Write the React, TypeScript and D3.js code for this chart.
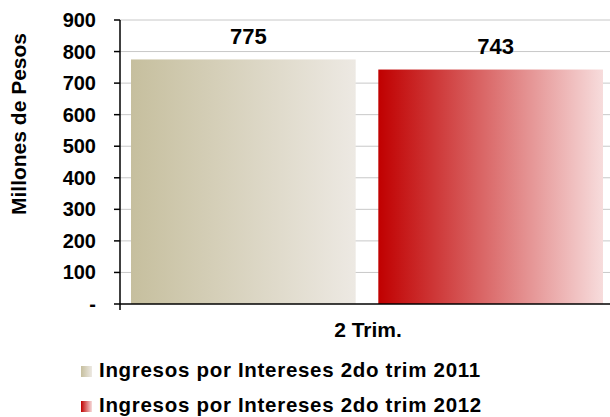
import React from "react";
import * as d3 from "d3";

const categories = ["2 Trim."];
const seriesNames = [
  "Ingresos por Intereses 2do trim 2011",
  "Ingresos por Intereses 2do trim 2012",
];
const seriesValues = [775, 743];
const yTicks = [0, 100, 200, 300, 400, 500, 600, 700, 800, 900];
const yTitle = "Millones de Pesos";

const gradients = [
  { from: "#c6bf9e", to: "#ede9e3" },
  { from: "#c00000", to: "#f7dcdc" },
];

const FONT = "'Liberation Sans', Arial, Helvetica, sans-serif";

export default function App() {
  const W = 610;
  const H = 417;
  const left = 120;
  const right = 610;
  const top = 20;
  const bottom = 304;

  const y = d3.scaleLinear().domain([0, 900]).range([bottom, top]);
  const x0 = d3.scaleBand().domain(categories).range([left, right]).paddingInner(0).paddingOuter(0.0);
  const x1 = d3
    .scaleBand()
    .domain(seriesNames)
    .range([11, x0.bandwidth() - 7])
    .paddingInner(0.0915);

  return (
    <svg width={W} height={H} style={{ position: "absolute", left: 0, top: 0 }} fontFamily={FONT}>
      <defs>
        {gradients.map((g, i) => (
          <linearGradient id={`g${i}`} key={i} x1="0" x2="1" y1="0" y2="0">
            <stop offset="0%" stopColor={g.from} />
            <stop offset="100%" stopColor={g.to} />
          </linearGradient>
        ))}
      </defs>
      <rect x={0} y={0} width={W} height={H} fill="#fff" />
      {/* gridlines */}
      {yTicks.slice(1).map((t) => (
        <line key={t} x1={left} x2={right} y1={y(t)} y2={y(t)} stroke="#c8c8c8" strokeWidth={1} />
      ))}
      {/* bars */}
      {categories.map((c) =>
        seriesValues.map((v, i) => {
          const bx = (x0(c) as number) + (x1(seriesNames[i]) as number);
          const bw = x1.bandwidth();
          return (
            <g key={`${c}-${i}`}>
              <rect x={bx} y={y(v)} width={bw} height={bottom - y(v)} fill={`url(#g${i})`} />
              <text
                x={bx + bw / 2 + 5}
                y={y(v) - 15.5}
                textAnchor="middle"
                fontSize={22}
                fontWeight="bold"
                fill="#000"
              >
                {d3.format("d")(v)}
              </text>
            </g>
          );
        })
      )}
      {/* y axis */}
      <line x1={left} x2={left} y1={top} y2={bottom + 6} stroke="#000" strokeWidth={1.5} />
      {yTicks.map((t) => (
        <g key={t}>
          <line x1={left - 6} x2={left} y1={y(t)} y2={y(t)} stroke="#000" strokeWidth={1.5} />
          <text
            x={96}
            y={y(t) + 7}
            textAnchor="end"
            fontSize={20}
            fontWeight="bold"
            fill="#000"
          >
            {t === 0 ? "-" : t}
          </text>
        </g>
      ))}
      {/* x axis */}
      <line x1={left} x2={right} y1={bottom} y2={bottom} stroke="#000" strokeWidth={1.5} />
      {categories.map((c) => (
        <text
          key={c}
          x={(x0(c) as number) + x0.bandwidth() / 2 + 3}
          y={337}
          textAnchor="middle"
          fontSize={21}
          fontWeight="bold"
          fill="#000"
        >
          {c}
        </text>
      ))}
      {/* y title */}
      <text
        transform={`translate(25.5, 124) rotate(-90)`}
        textAnchor="middle"
        fontSize={21}
        fontWeight="bold"
        fill="#000"
      >
        {yTitle}
      </text>
      {/* legend */}
      {seriesNames.map((s, i) => (
        <g key={s} transform={`translate(81, ${366 + i * 35})`}>
          <rect x={0} y={0} width={11} height={11} fill={`url(#g${i})`} />
          <text x={18} y={10.5} fontSize={20.5} letterSpacing={0.7} fontWeight="bold" fill="#000">
            {s}
          </text>
        </g>
      ))}
    </svg>
  );
}
